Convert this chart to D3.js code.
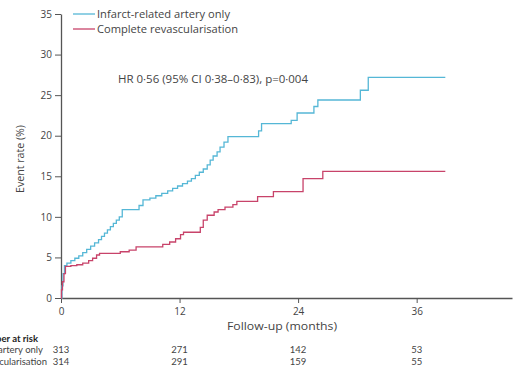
<!DOCTYPE html>
<html><head><meta charset="utf-8">
<script src="https://cdn.jsdelivr.net/npm/d3@7"></script>
<style>body{margin:0;background:#fff}svg{display:block}text{font-family:"Open Sans",Lato,sans-serif}</style>
</head><body><svg id="c" width="519" height="386"></svg>
<script>
// Data
const seriesNames = ["Infarct-related artery only", "Complete revascularisation"];
const seriesColors = ["#55b7d6", "#c8436a"];
const iraOnly = [[0,0],[0.1,1.5],[0.2,3.0],[0.35,4.0],[0.6,4.3],[1.0,4.6],[1.4,4.9],[1.8,5.2],[2.2,5.6],[2.6,6.0],[3.0,6.4],[3.4,6.8],[3.8,7.2],[4.1,7.6],[4.4,8.0],[4.7,8.4],[5.0,8.8],[5.3,9.2],[5.6,9.6],[5.9,10.0],[6.2,10.9],[7.9,11.4],[8.3,12.1],[9.0,12.3],[9.6,12.6],[10.2,12.9],[10.8,13.2],[11.3,13.5],[11.8,13.8],[12.3,14.1],[12.8,14.4],[13.2,14.7],[13.6,15.1],[14.0,15.5],[14.4,15.9],[14.8,16.4],[15.1,17.0],[15.4,17.5],[15.8,18.0],[16.1,18.6],[16.5,19.2],[16.9,19.9],[20.0,20.6],[20.3,21.5],[23.3,21.9],[23.9,22.8],[25.6,23.6],[26.0,24.4],[30.3,25.6],[31.1,27.2],[38.9,27.2]];
const complete = [[0,0],[0.05,1.0],[0.15,2.0],[0.3,3.0],[0.45,3.9],[1.0,4.0],[1.6,4.1],[2.2,4.3],[2.8,4.6],[3.2,4.9],[3.6,5.3],[3.9,5.5],[6.0,5.7],[6.9,5.9],[7.6,6.3],[10.3,6.6],[11.0,6.9],[11.6,7.3],[12.1,7.8],[12.4,8.1],[14.1,8.7],[14.4,9.6],[14.8,10.2],[15.5,10.6],[15.9,10.9],[16.6,11.2],[17.4,11.5],[17.8,11.9],[19.9,12.5],[21.5,13.1],[24.5,14.7],[26.5,15.6],[38.9,15.6]];
const yTicks = [0,5,10,15,20,25,30,35];
const xTicks = [0,12,24,36];
const riskTitle = "Number at risk";
const riskIra = [313, 271, 142, 53];
const riskComplete = [314, 291, 159, 55];
const hrText = "HR 0·56 (95% CI 0·38–0·83), p=0·004";
const xLabel = "Follow-up (months)";
const yLabel = "Event rate (%)";

const svg = d3.select("#c");
const x = d3.scaleLinear().domain([0, 45.65]).range([61, 512]);
const y = d3.scaleLinear().domain([0, 35]).range([298, 14]);
const axisCol = "#555", textCol = "#444", fs = "10px";

// Axes
const ya = svg.append("g").attr("transform","translate(61,0)")
  .call(d3.axisLeft(y).tickValues(yTicks).tickSize(6).tickPadding(3).tickSizeOuter(0));
const xa = svg.append("g").attr("transform","translate(0,298)")
  .call(d3.axisBottom(x).tickValues(xTicks).tickSize(5).tickPadding(5).tickSizeOuter(0));
[ya, xa].forEach(g => {
  g.select(".domain").attr("stroke", axisCol).attr("stroke-width", 1.3);
  g.selectAll(".tick line").attr("stroke", axisCol).attr("stroke-width", 1);
  g.selectAll(".tick text").attr("fill", textCol).style("font-size",fs).style("font-family","'Open Sans',sans-serif");
});

function fit(t, len){ t.attr("textLength", len).attr("lengthAdjust","spacingAndGlyphs"); return t; }

fit(svg.append("text").attr("transform","translate(24,159) rotate(-90)").attr("text-anchor","middle")
  .attr("fill",textCol).style("font-size",fs).text(yLabel), 68);
fit(svg.append("text").attr("x",282).attr("y",330).attr("text-anchor","middle")
  .attr("fill",textCol).style("font-size",fs).text(xLabel), 110);

// Curves
const line = d3.line().x(d=>x(d[0])).y(d=>y(d[1])).curve(d3.curveStepAfter);
[iraOnly, complete].forEach((s,i)=>{
  svg.append("path").datum(s).attr("d", line).attr("fill","none")
    .attr("stroke", seriesColors[i]).attr("stroke-width", 1.3);
});

// Legend
const legW = [133, 141];
seriesNames.forEach((n,i)=>{
  const ly = 14 + i*15;
  svg.append("line").attr("x1",73).attr("x2",95).attr("y1",ly).attr("y2",ly)
    .attr("stroke", seriesColors[i]).attr("stroke-width",1.3);
  fit(svg.append("text").attr("x",97).attr("y",ly+3.5).attr("fill",textCol)
    .style("font-size",fs).text(n), legW[i]);
});

// HR
fit(svg.append("text").attr("x",118).attr("y",83).attr("fill",textCol).style("font-size",fs).text(hrText), 190);

// Number at risk
const rowY = [341.5, 352.5, 364.5];
const tf = "Lato,sans-serif", tfs = "9.5px";
svg.append("text").attr("x",38).attr("y",rowY[0]).attr("text-anchor","end").attr("fill","#222")
  .style("font-family",tf).style("font-size",tfs).style("font-weight","bold").text(riskTitle);
svg.append("text").attr("x",43).attr("y",rowY[1]).attr("text-anchor","end").attr("fill",textCol)
  .style("font-family",tf).style("font-size",tfs).text(seriesNames[0]);
svg.append("text").attr("x",47).attr("y",rowY[2]).attr("text-anchor","end").attr("fill",textCol)
  .style("font-family",tf).style("font-size",tfs).text(seriesNames[1]);
[riskIra, riskComplete].forEach((arr,r)=>{
  arr.forEach((v,i)=>{
    svg.append("text").attr("x", x(xTicks[i])).attr("y", rowY[r+1]).attr("text-anchor","middle")
      .attr("fill",textCol).style("font-family",tf).style("font-size",tfs).text(v);
  });
});
</script></body></html>
